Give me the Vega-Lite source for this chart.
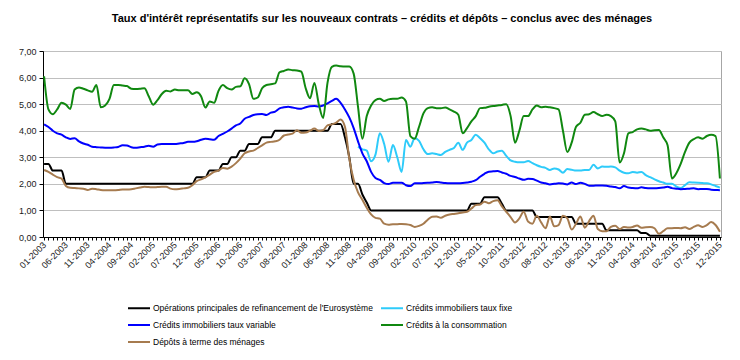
{
  "$schema": "https://vega.github.io/schema/vega-lite/v6.json",
  "width": 678,
  "height": 186,
  "autosize": {"type": "none"},
  "padding": {"left": 43, "top": 51, "right": 19, "bottom": 123},
  "background": "white",
  "config": {
    "font": "Liberation Sans",
    "view": {"stroke": "#A6A6A6", "strokeWidth": 1}
  },
  "title": {
    "text": "Taux d'intérêt représentatifs  sur les nouveaux contrats – crédits et dépôts – conclus avec des ménages",
    "font": "Liberation Sans",
    "fontSize": 11,
    "fontWeight": "bold",
    "color": "#000000",
    "anchor": "middle",
    "frame": "group",
    "offset": 23
  },
  "data": {
    "values": [
      {"m":"01-2003","B":2.75,"V":4.24,"C":6.05,"D":2.52},
      {"m":"02-2003","B":2.75,"V":4.14,"C":4.8,"D":2.45},
      {"m":"03-2003","B":2.5,"V":4.0,"C":4.62,"D":2.35},
      {"m":"04-2003","B":2.5,"V":3.9,"C":4.8,"D":2.25},
      {"m":"05-2003","B":2.5,"V":3.85,"C":5.05,"D":2.2},
      {"m":"06-2003","B":2.0,"V":3.75,"C":4.98,"D":1.92},
      {"m":"07-2003","B":2.0,"V":3.69,"C":4.82,"D":1.85},
      {"m":"08-2003","B":2.0,"V":3.72,"C":5.55,"D":1.84},
      {"m":"09-2003","B":2.0,"V":3.6,"C":5.63,"D":1.83},
      {"m":"10-2003","B":2.0,"V":3.52,"C":5.58,"D":1.82},
      {"m":"11-2003","B":2.0,"V":3.47,"C":5.52,"D":1.77},
      {"m":"12-2003","B":2.0,"V":3.4,"C":5.47,"D":1.82},
      {"m":"01-2004","B":2.0,"V":3.38,"C":5.72,"D":1.8},
      {"m":"02-2004","B":2.0,"V":3.37,"C":4.88,"D":1.77},
      {"m":"03-2004","B":2.0,"V":3.36,"C":4.95,"D":1.76},
      {"m":"04-2004","B":2.0,"V":3.36,"C":5.2,"D":1.76},
      {"m":"05-2004","B":2.0,"V":3.37,"C":5.72,"D":1.76},
      {"m":"06-2004","B":2.0,"V":3.39,"C":5.72,"D":1.77},
      {"m":"07-2004","B":2.0,"V":3.45,"C":5.7,"D":1.79},
      {"m":"08-2004","B":2.0,"V":3.44,"C":5.68,"D":1.79},
      {"m":"09-2004","B":2.0,"V":3.38,"C":5.58,"D":1.8},
      {"m":"10-2004","B":2.0,"V":3.36,"C":5.57,"D":1.83},
      {"m":"11-2004","B":2.0,"V":3.38,"C":5.58,"D":1.86},
      {"m":"12-2004","B":2.0,"V":3.4,"C":5.6,"D":1.89},
      {"m":"01-2005","B":2.0,"V":3.43,"C":5.3,"D":1.88},
      {"m":"02-2005","B":2.0,"V":3.4,"C":4.98,"D":1.87},
      {"m":"03-2005","B":2.0,"V":3.48,"C":5.15,"D":1.88},
      {"m":"04-2005","B":2.0,"V":3.5,"C":5.38,"D":1.89},
      {"m":"05-2005","B":2.0,"V":3.5,"C":5.5,"D":1.89},
      {"m":"06-2005","B":2.0,"V":3.5,"C":5.48,"D":1.82},
      {"m":"07-2005","B":2.0,"V":3.5,"C":5.55,"D":1.8},
      {"m":"08-2005","B":2.0,"V":3.52,"C":5.52,"D":1.81},
      {"m":"09-2005","B":2.0,"V":3.54,"C":5.52,"D":1.83},
      {"m":"10-2005","B":2.0,"V":3.58,"C":5.52,"D":1.85},
      {"m":"11-2005","B":2.0,"V":3.58,"C":5.38,"D":1.95},
      {"m":"12-2005","B":2.25,"V":3.6,"C":5.45,"D":2.1},
      {"m":"01-2006","B":2.25,"V":3.66,"C":5.3,"D":2.17},
      {"m":"02-2006","B":2.25,"V":3.7,"C":4.87,"D":2.24},
      {"m":"03-2006","B":2.5,"V":3.68,"C":5.1,"D":2.35},
      {"m":"04-2006","B":2.5,"V":3.66,"C":5.05,"D":2.45},
      {"m":"05-2006","B":2.5,"V":3.8,"C":5.5,"D":2.5},
      {"m":"06-2006","B":2.75,"V":3.88,"C":5.72,"D":2.6},
      {"m":"07-2006","B":2.75,"V":3.97,"C":5.6,"D":2.57},
      {"m":"08-2006","B":3.0,"V":4.08,"C":5.55,"D":2.65},
      {"m":"09-2006","B":3.0,"V":4.2,"C":5.65,"D":2.78},
      {"m":"10-2006","B":3.25,"V":4.27,"C":5.67,"D":2.95},
      {"m":"11-2006","B":3.25,"V":4.45,"C":5.97,"D":3.15},
      {"m":"12-2006","B":3.5,"V":4.52,"C":5.75,"D":3.22},
      {"m":"01-2007","B":3.5,"V":4.59,"C":5.2,"D":3.25},
      {"m":"02-2007","B":3.5,"V":4.62,"C":5.25,"D":3.35},
      {"m":"03-2007","B":3.75,"V":4.63,"C":5.6,"D":3.45},
      {"m":"04-2007","B":3.75,"V":4.59,"C":5.72,"D":3.55},
      {"m":"05-2007","B":3.75,"V":4.68,"C":5.75,"D":3.58},
      {"m":"06-2007","B":4.0,"V":4.72,"C":5.78,"D":3.6},
      {"m":"07-2007","B":4.0,"V":4.84,"C":6.2,"D":3.66},
      {"m":"08-2007","B":4.0,"V":4.88,"C":6.25,"D":3.82},
      {"m":"09-2007","B":4.0,"V":4.9,"C":6.3,"D":3.86},
      {"m":"10-2007","B":4.0,"V":4.87,"C":6.28,"D":3.89},
      {"m":"11-2007","B":4.0,"V":4.84,"C":6.27,"D":4.02},
      {"m":"12-2007","B":4.0,"V":4.83,"C":6.22,"D":3.92},
      {"m":"01-2008","B":4.0,"V":4.88,"C":5.6,"D":3.93},
      {"m":"02-2008","B":4.0,"V":4.92,"C":5.22,"D":4.0},
      {"m":"03-2008","B":4.0,"V":4.93,"C":5.8,"D":4.08},
      {"m":"04-2008","B":4.0,"V":4.91,"C":5.0,"D":3.99},
      {"m":"05-2008","B":4.0,"V":4.95,"C":4.48,"D":4.02},
      {"m":"06-2008","B":4.0,"V":5.03,"C":5.8,"D":4.2},
      {"m":"07-2008","B":4.25,"V":5.12,"C":6.4,"D":4.24},
      {"m":"08-2008","B":4.25,"V":5.2,"C":6.45,"D":4.3},
      {"m":"09-2008","B":4.25,"V":5.05,"C":6.43,"D":4.42},
      {"m":"10-2008","B":3.75,"V":4.8,"C":6.42,"D":4.15},
      {"m":"11-2008","B":3.0,"V":4.5,"C":6.42,"D":2.95},
      {"m":"12-2008","B":2.0,"V":4.1,"C":6.15,"D":2.15},
      {"m":"01-2009","B":2.0,"F":3.4,"V":3.6,"C":4.9,"D":1.68},
      {"m":"02-2009","B":1.6,"F":3.3,"V":3.15,"C":3.7,"D":1.4},
      {"m":"03-2009","B":1.3,"F":3.25,"V":2.85,"C":4.55,"D":1.1},
      {"m":"04-2009","B":1.0,"F":2.85,"V":2.45,"C":4.95,"D":0.85},
      {"m":"05-2009","B":1.0,"F":3.1,"V":2.22,"C":5.15,"D":0.72},
      {"m":"06-2009","B":1.0,"F":3.9,"V":2.15,"C":5.2,"D":0.69},
      {"m":"07-2009","B":1.0,"F":3.5,"V":2.03,"C":5.12,"D":0.5},
      {"m":"08-2009","B":1.0,"F":2.83,"V":1.99,"C":5.18,"D":0.46},
      {"m":"09-2009","B":1.0,"F":3.46,"V":2.04,"C":5.2,"D":0.48},
      {"m":"10-2009","B":1.0,"F":3.0,"V":2.04,"C":5.2,"D":0.48},
      {"m":"11-2009","B":1.0,"F":2.45,"V":2.04,"C":5.25,"D":0.49},
      {"m":"12-2009","B":1.0,"F":3.65,"V":1.95,"C":5.1,"D":0.48},
      {"m":"01-2010","B":1.0,"F":3.4,"V":1.92,"C":3.8,"D":0.45},
      {"m":"02-2010","B":1.0,"F":3.72,"V":2.02,"C":3.7,"D":0.38},
      {"m":"03-2010","B":1.0,"F":3.62,"V":2.02,"C":4.15,"D":0.42},
      {"m":"04-2010","B":1.0,"F":3.3,"V":2.03,"C":4.65,"D":0.5},
      {"m":"05-2010","B":1.0,"F":3.12,"V":2.04,"C":4.85,"D":0.65},
      {"m":"06-2010","B":1.0,"F":3.15,"V":2.05,"C":4.88,"D":0.76},
      {"m":"07-2010","B":1.0,"F":3.12,"V":2.07,"C":4.85,"D":0.77},
      {"m":"08-2010","B":1.0,"F":3.09,"V":2.05,"C":4.85,"D":0.72},
      {"m":"09-2010","B":1.0,"F":3.2,"V":2.03,"C":4.87,"D":0.8},
      {"m":"10-2010","B":1.0,"F":3.28,"V":2.02,"C":4.8,"D":0.85},
      {"m":"11-2010","B":1.0,"F":3.35,"V":2.02,"C":4.72,"D":0.87},
      {"m":"12-2010","B":1.0,"F":3.55,"V":2.02,"C":4.6,"D":0.89},
      {"m":"01-2011","B":1.0,"F":3.28,"V":2.03,"C":3.9,"D":0.92},
      {"m":"02-2011","B":1.0,"F":3.55,"V":2.05,"C":4.1,"D":0.95},
      {"m":"03-2011","B":1.25,"F":3.65,"V":2.08,"C":4.35,"D":1.07},
      {"m":"04-2011","B":1.25,"F":3.85,"V":2.14,"C":4.55,"D":1.2},
      {"m":"05-2011","B":1.25,"F":3.72,"V":2.27,"C":4.85,"D":1.22},
      {"m":"06-2011","B":1.5,"F":3.55,"V":2.38,"C":4.86,"D":1.33},
      {"m":"07-2011","B":1.5,"F":3.3,"V":2.46,"C":4.9,"D":1.27},
      {"m":"08-2011","B":1.5,"F":3.15,"V":2.47,"C":4.93,"D":1.35},
      {"m":"09-2011","B":1.5,"F":3.22,"V":2.48,"C":4.95,"D":1.38},
      {"m":"10-2011","B":1.25,"F":3.25,"V":2.43,"C":4.97,"D":1.15},
      {"m":"11-2011","B":1.0,"F":3.05,"V":2.38,"C":5.0,"D":0.95},
      {"m":"12-2011","B":1.0,"F":2.88,"V":2.3,"C":4.55,"D":0.75},
      {"m":"01-2012","B":1.0,"F":2.83,"V":2.26,"C":3.55,"D":0.55},
      {"m":"02-2012","B":1.0,"F":2.81,"V":2.2,"C":4.0,"D":0.7},
      {"m":"03-2012","B":1.0,"F":2.81,"V":2.15,"C":4.55,"D":0.95},
      {"m":"04-2012","B":1.0,"F":2.86,"V":2.19,"C":4.55,"D":0.58},
      {"m":"05-2012","B":1.0,"F":2.78,"V":2.18,"C":4.8,"D":0.5},
      {"m":"06-2012","B":0.75,"F":2.7,"V":2.12,"C":4.95,"D":0.8},
      {"m":"07-2012","B":0.75,"F":2.64,"V":2.05,"C":4.88,"D":0.55},
      {"m":"08-2012","B":0.75,"F":2.6,"V":2.02,"C":4.9,"D":0.33},
      {"m":"09-2012","B":0.75,"F":2.52,"V":1.98,"C":4.88,"D":0.77},
      {"m":"10-2012","B":0.75,"F":2.58,"V":2.0,"C":4.85,"D":0.4},
      {"m":"11-2012","B":0.75,"F":2.54,"V":2.02,"C":4.8,"D":0.45},
      {"m":"12-2012","B":0.75,"F":2.42,"V":2.01,"C":4.0,"D":0.8},
      {"m":"01-2013","B":0.75,"F":2.56,"V":1.98,"C":3.2,"D":0.7},
      {"m":"02-2013","B":0.75,"F":2.53,"V":2.05,"C":3.55,"D":0.28},
      {"m":"03-2013","B":0.5,"F":2.5,"V":1.99,"C":4.15,"D":0.5},
      {"m":"04-2013","B":0.5,"F":2.5,"V":2.04,"C":4.3,"D":0.77},
      {"m":"05-2013","B":0.5,"F":2.52,"V":2.0,"C":4.6,"D":0.35},
      {"m":"06-2013","B":0.5,"F":2.52,"V":1.93,"C":4.62,"D":0.6},
      {"m":"07-2013","B":0.5,"F":2.72,"V":1.93,"C":4.7,"D":0.8},
      {"m":"08-2013","B":0.5,"F":2.58,"V":1.94,"C":4.62,"D":0.3},
      {"m":"09-2013","B":0.5,"F":2.65,"V":1.94,"C":4.55,"D":0.22},
      {"m":"10-2013","B":0.25,"F":2.64,"V":1.93,"C":4.6,"D":0.22},
      {"m":"11-2013","B":0.25,"F":2.65,"V":1.9,"C":4.55,"D":0.38},
      {"m":"12-2013","B":0.25,"F":2.62,"V":1.88,"C":4.35,"D":0.42},
      {"m":"01-2014","B":0.25,"F":2.5,"V":1.83,"C":2.8,"D":0.3},
      {"m":"02-2014","B":0.25,"F":2.42,"V":1.92,"C":3.15,"D":0.38},
      {"m":"03-2014","B":0.25,"F":2.4,"V":1.86,"C":3.9,"D":0.36},
      {"m":"04-2014","B":0.25,"F":2.45,"V":1.84,"C":3.95,"D":0.38},
      {"m":"05-2014","B":0.25,"F":2.42,"V":1.83,"C":4.05,"D":0.43},
      {"m":"06-2014","B":0.15,"F":2.45,"V":1.87,"C":4.08,"D":0.35},
      {"m":"07-2014","B":0.15,"F":2.33,"V":1.84,"C":4.05,"D":0.37},
      {"m":"08-2014","B":0.05,"F":2.25,"V":1.83,"C":4.0,"D":0.38},
      {"m":"09-2014","B":0.05,"F":2.17,"V":1.83,"C":4.02,"D":0.33},
      {"m":"10-2014","B":0.05,"F":2.1,"V":1.84,"C":4.03,"D":0.12},
      {"m":"11-2014","B":0.05,"F":2.05,"V":1.86,"C":3.75,"D":0.22},
      {"m":"12-2014","B":0.05,"F":2.0,"V":1.89,"C":3.45,"D":0.33},
      {"m":"01-2015","B":0.05,"F":2.0,"V":1.84,"C":2.2,"D":0.33},
      {"m":"02-2015","B":0.05,"F":1.9,"V":1.82,"C":2.4,"D":0.34},
      {"m":"03-2015","B":0.05,"F":1.84,"V":1.8,"C":2.75,"D":0.33},
      {"m":"04-2015","B":0.05,"F":1.95,"V":1.81,"C":3.2,"D":0.37},
      {"m":"05-2015","B":0.05,"F":2.06,"V":1.82,"C":3.55,"D":0.3},
      {"m":"06-2015","B":0.05,"F":2.05,"V":1.83,"C":3.68,"D":0.38},
      {"m":"07-2015","B":0.05,"F":2.04,"V":1.8,"C":3.75,"D":0.44},
      {"m":"08-2015","B":0.05,"F":2.03,"V":1.81,"C":3.7,"D":0.38},
      {"m":"09-2015","B":0.05,"F":2.02,"V":1.81,"C":3.8,"D":0.45},
      {"m":"10-2015","B":0.05,"F":1.98,"V":1.78,"C":3.85,"D":0.56},
      {"m":"11-2015","B":0.05,"F":1.92,"V":1.77,"C":3.8,"D":0.45},
      {"m":"12-2015","B":0.05,"F":1.86,"V":1.76,"C":2.2,"D":0.2}
    ]
  },
  "transform": [{"fold": ["B", "F", "V", "C", "D"], "as": ["serie", "taux"]}],
  "mark": {"type": "line", "strokeWidth": 2, "interpolate": "monotone"},
  "encoding": {
    "x": {
      "field": "m",
      "type": "ordinal",
      "sort": null,
      "scale": {"type": "point", "padding": 0.25},
      "axis": {
        "title": null,
        "labelExpr": "((toNumber(slice(datum.label,3))-2003)*12 + toNumber(slice(datum.label,0,2)) - 1) % 5 == 0 ? datum.label : ''",
        "labelAngle": -45,
        "labelAlign": "right",
        "labelBaseline": "middle",
        "labelOverlap": false,
        "labelFontSize": 9,
        "labelColor": "#1a1a1a",
        "labelPadding": 3,
        "tickSize": 3,
        "tickColor": "#000000",
        "domainColor": "#000000",
        "grid": false
      }
    },
    "y": {
      "field": "taux",
      "type": "quantitative",
      "scale": {"domain": [0, 7], "nice": false},
      "axis": {
        "title": null,
        "values": [0, 1, 2, 3, 4, 5, 6, 7],
        "labelExpr": "replace(format(datum.value, '.2f'), '.', ',')",
        "labelFontSize": 9,
        "labelColor": "#1a1a1a",
        "labelPadding": 3,
        "tickSize": 4,
        "tickColor": "#000000",
        "domainColor": "#000000",
        "grid": true,
        "gridColor": "#BFBFBF"
      }
    },
    "color": {
      "field": "serie",
      "type": "nominal",
      "scale": {
        "domain": ["B", "F", "V", "C", "D"],
        "range": ["#000000", "#2ECBFA", "#0000FF", "#108810", "#A67B4F"]
      },
      "legend": {
        "orient": "none",
        "legendX": 84,
        "legendY": 245,
        "columns": 2,
        "direction": "horizontal",
        "title": null,
        "symbolType": "stroke",
        "symbolSize": 484,
        "symbolStrokeWidth": 2,
        "labelFontSize": 8.5,
        "labelLimit": 400,
        "labelColor": "#000000",
        "labelOffset": 2,
        "columnPadding": 4,
        "rowPadding": -5,
        "labelExpr": "datum.label == 'B' ? \"Opérations principales de refinancement de l'Eurosystème\" : datum.label == 'F' ? 'Crédits immobiliers taux fixe' : datum.label == 'V' ? 'Crédits immobiliers taux variable' : datum.label == 'C' ? 'Crédits à la consommation' : 'Dépôts à terme des ménages'"
      }
    }
  }
}
